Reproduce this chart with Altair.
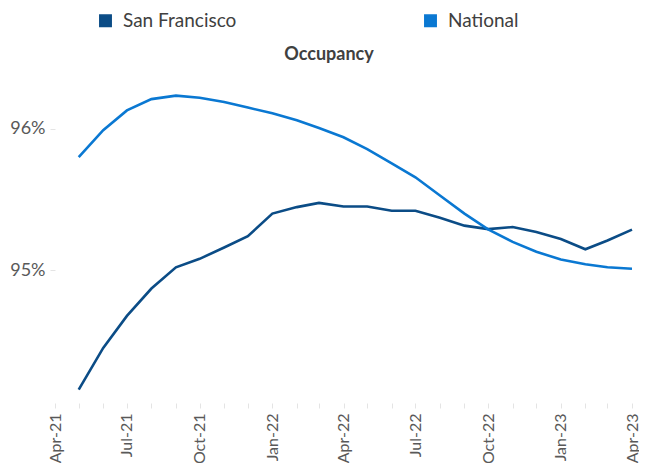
import altair as alt
import pandas as pd

months = ["2021-05-01", "2021-06-01", "2021-07-01", "2021-08-01", "2021-09-01", "2021-10-01",
          "2021-11-01", "2021-12-01", "2022-01-01", "2022-02-01", "2022-03-01", "2022-04-01",
          "2022-05-01", "2022-06-01", "2022-07-01", "2022-08-01", "2022-09-01", "2022-10-01",
          "2022-11-01", "2022-12-01", "2023-01-01", "2023-02-01", "2023-03-01", "2023-04-01"]

san_francisco = [94.155, 94.45, 94.676, 94.87, 95.02, 95.08, 95.16, 95.24, 95.40, 95.446, 95.476, 95.45,
                 95.45, 95.42, 95.42, 95.37, 95.315, 95.29, 95.305, 95.27, 95.22, 95.148, 95.21, 95.287]

national = [95.80, 95.99, 96.13, 96.21, 96.235, 96.22, 96.19, 96.15, 96.11, 96.06, 96.005, 95.94,
            95.856, 95.756, 95.657, 95.528, 95.40, 95.289, 95.20, 95.13, 95.075, 95.042, 95.02, 95.01]

series_names = ["San Francisco", "National"]
series_colors = ["#0B4C86", "#0A78D2"]

axis_months = ["2021-04-01", "2021-05-01", "2021-06-01", "2021-07-01", "2021-08-01", "2021-09-01",
               "2021-10-01", "2021-11-01", "2021-12-01", "2022-01-01", "2022-02-01", "2022-03-01",
               "2022-04-01", "2022-05-01", "2022-06-01", "2022-07-01", "2022-08-01", "2022-09-01",
               "2022-10-01", "2022-11-01", "2022-12-01", "2023-01-01", "2023-02-01", "2023-03-01",
               "2023-04-01"]
y_ticks = [95, 96]
chart_title = "Occupancy"

rows = []
for m, v in zip(months, san_francisco):
    rows.append({"date": m, "series": "San Francisco", "value": v})
for m, v in zip(months, national):
    rows.append({"date": m, "series": "National", "value": v})
df = pd.DataFrame(rows)

FONT = "Lato"

lines = alt.Chart(df).mark_line(strokeWidth=2.6).encode(
    x=alt.X(
        "date:T",
        scale=alt.Scale(type="utc", domain=[axis_months[0], axis_months[-1]], nice=False),
        axis=alt.Axis(
            title=None,
            values=axis_months,
            labelExpr="utcmonth(datum.value) % 3 == 0 ? utcFormat(datum.value, '%b-%y') : ''",
            labelAngle=-90,
            labelFont=FONT,
            labelFontSize=16,
            labelColor="#595959",
            labelPadding=5,
            labelOverlap=False,
            labelFlush=False,
            domain=False,
            ticks=True,
            tickSize=5,
            tickColor="#e4e4e4",
            grid=False,
        ),
    ),
    y=alt.Y(
        "value:Q",
        scale=alt.Scale(domain=[94.06, 96.6], nice=False, zero=False),
        axis=alt.Axis(
            title=None,
            values=y_ticks,
            labelExpr="datum.value + '%'",
            labelFont=FONT,
            labelFontSize=18,
            labelColor="#595959",
            labelPadding=5,
            domain=False,
            tickSize=5,
            tickColor="#e4e4e4",
            grid=False,
        ),
    ),
    color=alt.Color(
        "series:N",
        scale=alt.Scale(domain=series_names, range=series_colors),
        legend=alt.Legend(
            title=None,
            orient="none",
            legendX=41,
            legendY=-33,
            direction="horizontal",
            symbolType="square",
            symbolSize=130,
            symbolFillColor={"expr": "scale('color', datum.value)"},
            labelFont=FONT,
            labelFontSize=19,
            labelColor="#404040",
            labelOffset=8,
            columnPadding=184,
            padding=0,
        ),
    ),
    detail="series:N",
)

title_df = pd.DataFrame({"t": [chart_title]})
title_layer = alt.Chart(title_df).mark_text(
    font=FONT, fontSize=18, fontWeight="bold", color="#404040", baseline="middle", align="center"
).encode(
    text="t:N",
    x=alt.value(274),
    y=alt.value(11),
)

chart = alt.layer(lines, title_layer).properties(
    width=577,
    height=359,
    autosize=alt.AutoSizeParams(type="none"),
    padding={"left": 47, "top": 36, "right": 7, "bottom": 60},
).configure_view(stroke=None)

chart.save("out.html", embed_options={"renderer": "svg", "actions": False})
